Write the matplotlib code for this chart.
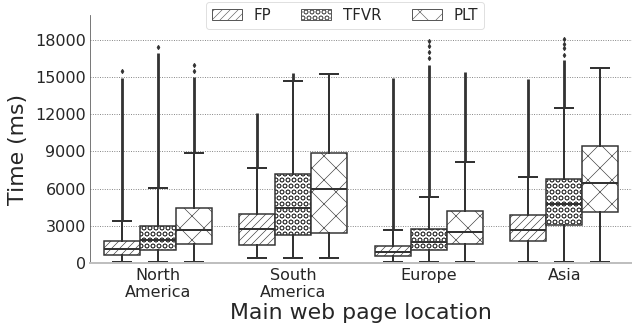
import matplotlib
matplotlib.use("Agg")
import matplotlib.pyplot as plt
from matplotlib.patches import Patch

# === Data (ms) ===
locations = ["North\nAmerica", "South\nAmerica", "Europe", "Asia"]
metrics = ["FP", "TFVR", "PLT"]
hatches = ["///", "OO", "x"]

# per metric: one value per location
q1 = {"FP": [645, 1450, 565, 1800],
      "TFVR": [1050, 2290, 1050, 3040],
      "PLT": [1510, 2450, 1510, 4120]}
med = {"FP": [1130, 2770, 915, 2690],
       "TFVR": [1830, 4440, 1720, 4740],
       "PLT": [2660, 5950, 2530, 6430]}
q3 = {"FP": [1776, 3950, 1400, 3850],
      "TFVR": [3010, 7180, 2720, 6800],
      "PLT": [4440, 8850, 4200, 9440]}
wlo = {"FP": [80, 380, 100, 100],
       "TFVR": [80, 400, 100, 100],
       "PLT": [80, 400, 100, 100]}
whi = {"FP": [3415, 7670, 2660, 6970],
       "TFVR": [6030, 14660, 5330, 12540],
       "PLT": [8850, 15280, 8180, 15710]}
# top of the dense run of outliers (None = no outliers)
dense_top = {"FP": [14950, 12130, 14880, 14800],
             "TFVR": [16900, 15360, 16000, 16400],
             "PLT": [15040, None, 15440, None]}
# a few isolated outliers above the dense run
sparse = {"FP": [[15500], [], [], []],
          "TFVR": [[17450], [], [16500, 17000, 17500, 17900], [16800, 17300, 17700, 18050]],
          "PLT": [[15500, 15950], [], [], []]}

# === Style ===
dark = "0.2"
plt.rcParams["font.family"] = "DejaVu Sans"
plt.rcParams["text.color"] = "0.15"
plt.rcParams["hatch.color"] = "0.3"
plt.rcParams["hatch.linewidth"] = 0.6

fig = plt.figure(figsize=(632 / 72, 331 / 72), dpi=72)
ax = fig.add_axes([90 / 632, 1 - 263 / 331, 542 / 632, 248 / 331])

width = 0.8 / 3
for j, m in enumerate(metrics):
    stats = []
    pos = []
    for i in range(len(locations)):
        stats.append(dict(med=med[m][i], q1=q1[m][i], q3=q3[m][i],
                          whislo=wlo[m][i], whishi=whi[m][i],
                          fliers=sparse[m][i]))
        pos.append(i + (j - 1) * width)
    bp = ax.bxp(stats, positions=pos, widths=width, patch_artist=True,
                boxprops=dict(facecolor="white", edgecolor=dark, linewidth=1.5, hatch=hatches[j]),
                medianprops=dict(color=dark, linewidth=2),
                whiskerprops=dict(color=dark, linewidth=2),
                capprops=dict(color=dark, linewidth=2),
                flierprops=dict(marker="d", markersize=3, markerfacecolor=dark,
                                markeredgecolor=dark))
    for i in range(len(locations)):
        if dense_top[m][i] is not None:
            ax.vlines(pos[i], whi[m][i], dense_top[m][i], color=dark, linewidth=2.8)

ax.set_xlim(-0.5, 3.5)
ax.set_ylim(0, 20000)
ax.set_xticks(range(len(locations)))
ax.set_xticklabels(locations)
ax.set_yticks([0, 3000, 6000, 9000, 12000, 15000, 18000])
ax.tick_params(axis="both", labelsize=16, length=0, colors="0.15", pad=4)
ax.tick_params(axis="x", pad=5)
ax.yaxis.grid(True, linestyle=":", color="0.45", linewidth=0.9)
ax.set_axisbelow(True)
ax.set_ylabel("Time (ms)", fontsize=22, color="0.15")
ax.yaxis.set_label_coords(-0.114, 0.456)
ax.set_xlabel("Main web page location", fontsize=22, color="0.15", labelpad=3)

for s in ["top", "right"]:
    ax.spines[s].set_visible(False)
ax.spines["left"].set_color("0.35")
ax.spines["left"].set_linewidth(0.8)
ax.spines["bottom"].set_color("0.75")
ax.spines["bottom"].set_linewidth(2)

handles = [Patch(facecolor="white", edgecolor="0.35", hatch=h, label=m)
           for m, h in zip(metrics, hatches)]
fig.legend(handles=handles, loc="upper center", bbox_to_anchor=(345 / 632, 1.0),
           ncol=3, fontsize=15, frameon=True, borderaxespad=0.1,
           handletextpad=0.8, columnspacing=2.0, edgecolor="0.85")

fig.savefig("out.png", dpi=72)
